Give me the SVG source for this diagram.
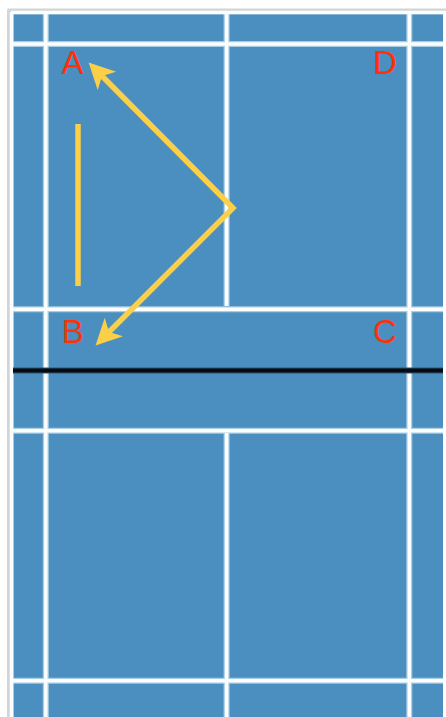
<svg xmlns="http://www.w3.org/2000/svg" width="446" height="717" viewBox="0 0 446 717">
<style>
.h{stroke:#a9cde3;stroke-width:6;fill:none}
.w{stroke:#fbfdfe;stroke-width:3.500;fill:none}
.y{stroke:#fbcf48;stroke-width:5.500;fill:none;stroke-linejoin:miter}
.t{font-family:"Liberation Sans",Arial,sans-serif;font-size:33px;fill:#ff300a;text-anchor:middle}
</style>
<defs>
<marker id="ah" markerUnits="userSpaceOnUse" markerWidth="30" markerHeight="30" refX="7" refY="13" orient="auto-start-reverse">
<path d="M0 0L26 13L0 26L7 13Z" fill="#fbcf48"/>
</marker>
</defs>
<rect width="446" height="717" fill="#fff"/>
<g id="court">
<rect x="13" y="14" width="430" height="703" fill="#4a8fbf"/>
<path d="M7.500 10.300H446M8.800 10V717" stroke="#d4d4d4" stroke-width="3.500" fill="none"/>
<path class="h" d="M11 13H443M12.500 12V717" style="stroke-width:2.500"/>
<path class="h" d="M11 44H443M11 309.200H443M11 430.800H443M11 680.800H443M45.800 12V717M409.300 12V717M226.600 12V306M226.600 433V717"/>
<path class="w" d="M11 44H446M11 309.200H446M11 430.800H446M11 680.800H446M45.800 12V717M409.300 12V717M226.600 12V306M226.600 433V717M11 12.500H446M11.500 12V717"/>
</g>
<g id="net">
<path d="M13 370.500H443" stroke="#2c5672" stroke-width="6" fill="none"/>
<path d="M13 370.500H443" stroke="#050b10" stroke-width="4" fill="none"/>
</g>
<g id="connectors">
<path class="y" d="M78 124V286"/>
<path class="y" d="M102 76L233 208L109 332" marker-start="url(#ah)" marker-end="url(#ah)"/>
</g>
<g id="label-a"><text class="t" x="72.500" y="74">A</text></g>
<g id="label-b"><text class="t" x="72.800" y="343">B</text></g>
<g id="label-c"><text class="t" x="385" y="343">C</text></g>
<g id="label-d"><text class="t" x="385" y="74">D</text></g>
</svg>
